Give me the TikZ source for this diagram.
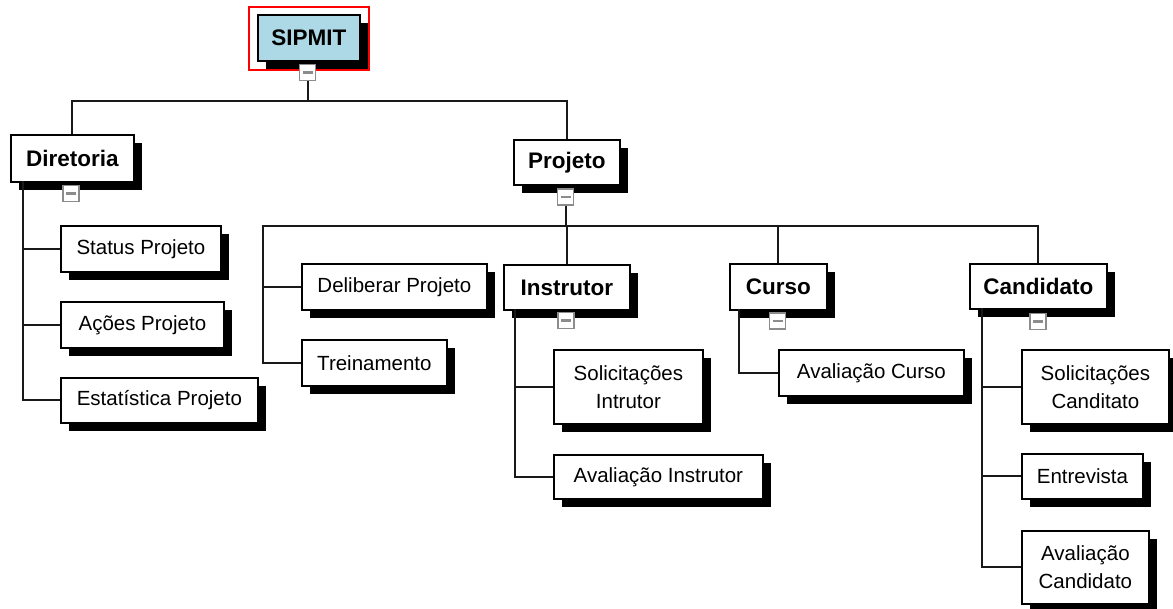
\documentclass[tikz,border=0pt]{standalone}
\usepackage{fontspec}
\setmainfont{Liberation Sans}
\usepackage{tikz}
\usetikzlibrary{shadows}
\definecolor{rootblue}{HTML}{ADD8E6}
\newcommand{\leaffont}{\fontsize{20.5}{28}\selectfont}
\newcommand{\topicfont}{\bfseries\fontsize{22.5}{27}\selectfont}
\tikzstyle{leaf}=[draw, line width=1.8pt, fill=white, inner sep=0pt, anchor=north west,
  align=center, font=\leaffont,
  drop shadow={fill=black, opacity=1, shadow xshift=8pt, shadow yshift=-8pt}]
\tikzstyle{topic}=[leaf, font=\topicfont]
\tikzstyle{tog}=[draw=black!45, fill=white, line width=1.5pt, minimum size=16pt, inner sep=0pt,
  path picture={\draw[line width=2.5pt] ([xshift=-5pt]path picture bounding box.center)
    -- ([xshift=5pt]path picture bounding box.center);}]
\tikzstyle{elbow}=[line width=2pt, to path={|- (\tikztotarget)}]
\tikzstyle{fork}=[line width=2pt, to path={-- ++(0,20) -| (\tikztotarget)}]
\newcommand{\leaf}{\node[leaf]}
\newcommand{\topic}{\node[topic]}
\newcommand{\tog}{\node[tog]}

\begin{document}
\begin{tikzpicture}[x=1pt, y=-1pt
  ,every edge/.style={draw=black!90, line width=2pt}
]
\useasboundingbox (0,0) rectangle (1173,608);
% root
\node[draw=red, line width=1.5pt, minimum width=120pt, minimum height=63pt,
  anchor=north west, inner sep=0pt] (frame) at (248,6) {};
\topic[fill=rootblue, minimum width=102pt, minimum height=46pt] (root) at (257,14) {SIPMIT};
\tog (t0) at (307.5,72.5) {};
% level 1
\topic[minimum width=123pt, minimum height=47pt] (dir) at (10,134) {Diretoria};
\tog (t1) at (71,193.5) {};
\topic[minimum width=106pt, minimum height=45pt] (proj) at (513,139) {Projeto};
\tog (t2) at (565.5,197) {};
% diretoria
\leaf[minimum width=160pt, minimum height=46pt] (st) at (60,225) {Status Projeto};
\leaf[minimum width=163pt, minimum height=46pt] (ac) at (60,301) {Ações Projeto};
\leaf[minimum width=197pt, minimum height=45pt] (es) at (60,377) {Estatística Projeto};
% projeto
\leaf[minimum width=185pt, minimum height=46pt] (del) at (301,263) {Deliberar Projeto};
\leaf[minimum width=145pt, minimum height=46pt] (tre) at (301,339) {Treinamento};
\topic[minimum width=126pt, minimum height=45pt] (inst) at (503,264) {Instrutor};
\tog (t3) at (566,320.5) {};
\topic[minimum width=97pt, minimum height=46pt] (cur) at (729,263) {Curso};
\tog (t4) at (777.5,321) {};
\topic[minimum width=137pt, minimum height=45pt] (cand) at (969,263) {Candidato};
\tog (t5) at (1038,321.5) {};
% instrutor
\leaf[minimum width=149pt, minimum height=74pt] (soli) at (553,349) {Solicitações\\Intrutor};
\leaf[minimum width=209pt, minimum height=44pt] (avi) at (553,454) {Avaliação Instrutor};
% curso
\leaf[minimum width=185pt, minimum height=46pt] (avc) at (778,349) {Avaliação Curso};
% candidato
\leaf[minimum width=147pt, minimum height=74pt] (solc) at (1021,349) {Solicitações\\Canditato};
\leaf[minimum width=121pt, minimum height=45pt] (ent) at (1021,453) {Entrevista};
\leaf[minimum width=127pt, minimum height=73pt] (avk) at (1021,530) {Avaliação\\Candidato};
\coordinate (dl) at (23,181);
\coordinate (pl) at (263,226);
\coordinate (il) at (515,309);
\coordinate (cl) at (739,309);
\coordinate (kl) at (982,308);
\path
(t0.south) edge[fork] (dir.north) edge[fork] (proj.north)
(t2.south) edge[fork] (pl) edge[fork] (inst.north) edge[fork] (cur.north) edge[fork] (cand.north)
(dl) edge[elbow] (st.west) edge[elbow] (ac.west) edge[elbow] (es.west)
(pl) edge[elbow] (del.west) edge[elbow] (tre.west)
(il) edge[elbow] (soli.west) edge[elbow] (avi.west)
(cl) edge[elbow] (avc.west)
(kl) edge[elbow] (solc.west) edge[elbow] (ent.west) edge[elbow] (avk.west)
;
\end{tikzpicture}
\end{document}
